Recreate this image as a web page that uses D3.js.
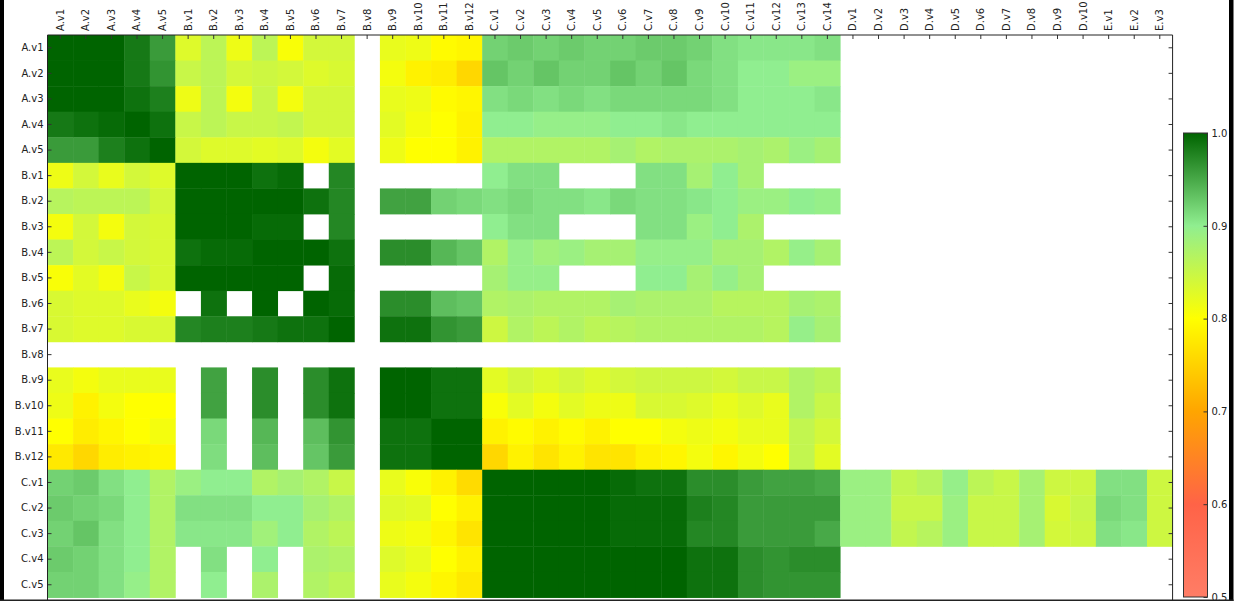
<!DOCTYPE html>
<html>
<head>
<meta charset="utf-8">
<script src="https://cdn.jsdelivr.net/npm/d3@7"></script>
<style>
  html, body { margin: 0; padding: 0; background: #fff; }
  svg { display: block; font-family: "DejaVu Sans", sans-serif; }
</style>
</head>
<body>
<svg id="chart" width="1241" height="601"></svg>
<script>
// Variable labels along each axis
const rowLabels = ["A.v1","A.v2","A.v3","A.v4","A.v5",
  "B.v1","B.v2","B.v3","B.v4","B.v5","B.v6","B.v7","B.v8","B.v9","B.v10","B.v11","B.v12",
  "C.v1","C.v2","C.v3","C.v4","C.v5"];
const colLabels = ["A.v1","A.v2","A.v3","A.v4","A.v5",
  "B.v1","B.v2","B.v3","B.v4","B.v5","B.v6","B.v7","B.v8","B.v9","B.v10","B.v11","B.v12",
  "C.v1","C.v2","C.v3","C.v4","C.v5","C.v6","C.v7","C.v8","C.v9","C.v10","C.v11","C.v12","C.v13","C.v14",
  "D.v1","D.v2","D.v3","D.v4","D.v5","D.v6","D.v7","D.v8","D.v9","D.v10",
  "E.v1","E.v2","E.v3"];
const colorbarTicks = [0.5, 0.6, 0.7, 0.8, 0.9, 1.0];

const _ = null; // no value for this pair
const noDE = [_,_,_,_,_,_,_,_,_,_, _,_,_];

// Rows A.v1 .. A.v5  (columns: A | B | C | D | E)
const valuesA = [
  [1.0,1.0,1.0,0.985,0.96,      0.83,0.86,0.815,0.86,0.805,0.84,0.84,_,0.82,0.815,0.795,0.79,
   0.92,0.925,0.92,0.925,0.92,0.92,0.925,0.925,0.92,0.91,0.905,0.905,0.905,0.91, ...noDE],
  [1.0,1.0,1.0,0.985,0.965,     0.85,0.86,0.84,0.845,0.84,0.83,0.835,_,0.81,0.785,0.78,0.755,
   0.93,0.92,0.93,0.92,0.92,0.93,0.92,0.93,0.915,0.91,0.9,0.9,0.89,0.89, ...noDE],
  [1.0,1.0,1.0,0.99,0.98,       0.815,0.86,0.81,0.85,0.81,0.84,0.84,_,0.82,0.815,0.795,0.79,
   0.91,0.915,0.91,0.915,0.91,0.915,0.915,0.915,0.915,0.91,0.9,0.9,0.9,0.905, ...noDE],
  [0.985,0.99,0.995,1.0,0.99,   0.85,0.86,0.85,0.85,0.855,0.84,0.84,_,0.825,0.81,0.8,0.785,
   0.9,0.9,0.895,0.895,0.895,0.9,0.9,0.905,0.9,0.9,0.9,0.9,0.9,0.9, ...noDE],
  [0.96,0.96,0.98,0.99,1.0,     0.84,0.83,0.83,0.825,0.83,0.81,0.825,_,0.815,0.8,0.8,0.785,
   0.87,0.87,0.87,0.87,0.87,0.88,0.87,0.875,0.875,0.875,0.88,0.875,0.89,0.88, ...noDE]
];

// Rows B.v1 .. B.v12
const valuesB = [
  [0.815,0.84,0.82,0.84,0.83,   1.0,1.0,1.0,0.99,0.995,_,0.975,_,_,_,_,_,
   0.9,0.91,0.91,_,_,_,0.91,0.91,0.88,0.9,0.88,_,_,_, ...noDE],
  [0.865,0.86,0.86,0.86,0.84,   1.0,1.0,1.0,1.0,1.0,0.99,0.975,_,0.955,0.955,0.92,0.915,
   0.91,0.915,0.91,0.91,0.905,0.915,0.91,0.91,0.905,0.9,0.89,0.89,0.9,0.895, ...noDE],
  [0.81,0.84,0.81,0.84,0.835,   1.0,1.0,1.0,0.995,0.995,_,0.975,_,_,_,_,_,
   0.9,0.91,0.91,_,_,_,0.91,0.91,0.89,0.9,0.875,_,_,_, ...noDE],
  [0.86,0.84,0.85,0.84,0.835,   0.99,0.995,0.995,1.0,1.0,1.0,0.99,_,0.97,0.97,0.94,0.93,
   0.87,0.895,0.885,0.89,0.88,0.88,0.895,0.895,0.895,0.88,0.88,0.87,0.895,0.88, ...noDE],
  [0.805,0.825,0.81,0.85,0.835, 1.0,1.0,1.0,1.0,1.0,_,0.995,_,_,_,_,_,
   0.88,0.895,0.895,_,_,_,0.9,0.9,0.88,0.895,0.88,_,_,_, ...noDE],
  [0.835,0.83,0.83,0.82,0.81,   _,0.99,_,1.0,_,1.0,0.995,_,0.97,0.97,0.935,0.93,
   0.87,0.875,0.87,0.87,0.87,0.88,0.875,0.875,0.875,0.865,0.865,0.865,0.88,0.875, ...noDE],
  [0.835,0.83,0.83,0.835,0.835, 0.975,0.98,0.98,0.985,0.99,0.99,1.0,_,0.99,0.99,0.965,0.96,
   0.845,0.87,0.86,0.87,0.86,0.865,0.87,0.87,0.87,0.87,0.87,0.865,0.895,0.88, ...noDE],
  [_,_,_,_,_, _,_,_,_,_,_,_,_,_,_,_,_, _,_,_,_,_,_,_,_,_,_,_,_,_,_, ...noDE],
  [0.82,0.81,0.82,0.82,0.82,    _,0.955,_,0.97,_,0.97,0.99,_,1.0,1.0,0.99,0.99,
   0.825,0.84,0.83,0.84,0.83,0.84,0.845,0.845,0.845,0.84,0.85,0.85,0.87,0.86, ...noDE],
  [0.815,0.785,0.81,0.8,0.8,    _,0.955,_,0.97,_,0.97,0.99,_,1.0,1.0,0.99,0.99,
   0.805,0.825,0.81,0.825,0.815,0.815,0.835,0.835,0.83,0.82,0.83,0.82,0.87,0.85, ...noDE],
  [0.8,0.78,0.79,0.8,0.81,      _,0.915,_,0.94,_,0.935,0.965,_,0.99,0.99,1.0,1.0,
   0.785,0.795,0.785,0.795,0.785,0.8,0.8,0.81,0.815,0.81,0.82,0.82,0.855,0.84, ...noDE],
  [0.775,0.755,0.78,0.785,0.79, _,0.912,_,0.935,_,0.93,0.96,_,0.99,0.99,1.0,1.0,
   0.755,0.785,0.77,0.785,0.77,0.77,0.785,0.79,0.81,0.79,0.81,0.8,0.855,0.825, ...noDE]
];

// Rows C.v1 .. C.v5  (C.v1 .. C.v3 also pair with the D and E variables)
const valuesC = [
  [0.92,0.925,0.91,0.9,0.87,    0.89,0.9,0.9,0.87,0.88,0.87,0.85,_,0.82,0.805,0.785,0.76,
   1.0,1.0,1.0,1.0,1.0,0.995,0.99,0.99,0.97,0.97,0.96,0.955,0.955,0.95,
   0.89,0.89,0.855,0.865,0.895,0.86,0.85,0.88,0.845,0.845, 0.91,0.91,0.845],
  [0.925,0.92,0.915,0.9,0.87,   0.91,0.91,0.91,0.9,0.9,0.88,0.87,_,0.83,0.825,0.8,0.785,
   1.0,1.0,1.0,1.0,1.0,0.995,0.995,0.995,0.98,0.975,0.96,0.96,0.96,0.96,
   0.89,0.89,0.85,0.85,0.89,0.85,0.85,0.88,0.835,0.85, 0.915,0.91,0.845],
  [0.92,0.93,0.91,0.9,0.87,     0.905,0.905,0.905,0.885,0.9,0.87,0.86,_,0.815,0.81,0.79,0.77,
   1.0,1.0,1.0,1.0,1.0,0.995,0.995,0.995,0.975,0.975,0.96,0.96,0.96,0.95,
   0.89,0.89,0.855,0.865,0.89,0.85,0.85,0.88,0.84,0.845, 0.91,0.905,0.845],
  [0.925,0.92,0.91,0.9,0.87,    _,0.91,_,0.9,_,0.875,0.87,_,0.83,0.82,0.8,0.785,
   1.0,1.0,1.0,1.0,1.0,1.0,1.0,1.0,0.99,0.99,0.97,0.965,0.97,0.97, ...noDE],
  [0.92,0.92,0.91,0.895,0.87,   _,0.9,_,0.875,_,0.87,0.86,_,0.82,0.81,0.79,0.775,
   1.0,1.0,1.0,1.0,1.0,1.0,1.0,1.0,0.99,0.99,0.97,0.965,0.965,0.965, ...noDE]
];

const values = [...valuesA, ...valuesB, ...valuesC];

// Layout
const plotLeft = 47.5, plotTop = 35, cell = 25.57;
const svg = d3.select("#chart");

const x = d3.scaleBand().domain(colLabels).range([plotLeft, plotLeft + cell * colLabels.length]);
const y = d3.scaleBand().domain(rowLabels).range([plotTop, plotTop + cell * rowLabels.length]);
const plotRight = x.range()[1];

const color = d3.scaleLinear()
  .domain([0.5, 0.6, 0.7, 0.8, 0.9, 1.0])
  .range(["#ff7d66", "#ff6347", "#ffa500", "#ffff00", "#90ee90", "#006400"])
  .clamp(true);

// Cells
const cells = [];
values.forEach((row, i) => row.forEach((v, j) => {
  if (v !== null) cells.push({ r: rowLabels[i], c: colLabels[j], v });
}));

svg.append("g")
  .selectAll("rect")
  .data(cells)
  .join("rect")
  .attr("x", d => x(d.c))
  .attr("y", d => y(d.r))
  .attr("width", x.bandwidth() + 0.4)
  .attr("height", y.bandwidth() + 0.4)
  .attr("fill", d => color(d.v));

// Axes with inward ticks
const tickStyle = g => {
  g.select(".domain").remove();
  g.selectAll(".tick line").attr("stroke", "#333");
  g.selectAll(".tick text").attr("fill", "#222").style("font-size", "10px")
    .style("font-family", "'DejaVu Sans', sans-serif");
};

svg.append("g")
  .attr("transform", `translate(${plotLeft},0)`)
  .call(d3.axisLeft(y).tickSizeInner(-4).tickSizeOuter(0).tickPadding(4))
  .call(tickStyle);

svg.append("g")
  .attr("transform", `translate(${plotRight},0)`)
  .call(d3.axisRight(y).tickSizeInner(-4).tickSizeOuter(0).tickFormat(""))
  .call(tickStyle);

const topAxis = svg.append("g")
  .attr("transform", `translate(0,${plotTop})`)
  .call(d3.axisTop(x).tickSizeInner(-4).tickSizeOuter(0))
  .call(tickStyle);
topAxis.selectAll(".tick text")
  .attr("transform", "rotate(-90)")
  .attr("x", 4)
  .attr("y", 0)
  .attr("dy", "0.35em")
  .attr("text-anchor", "start");

// Plot frame (bottom edge runs past the visible area)
const frame = svg.append("g").attr("stroke", "#222").attr("stroke-width", 1).attr("fill", "none");
frame.append("line").attr("x1", plotLeft).attr("x2", plotRight).attr("y1", plotTop).attr("y2", plotTop);
frame.append("line").attr("x1", plotLeft).attr("x2", plotLeft).attr("y1", plotTop).attr("y2", 601);
frame.append("line").attr("x1", plotRight).attr("x2", plotRight).attr("y1", plotTop).attr("y2", 601);

// Colorbar
const cbX = 1183.5, cbW = 24;
const cb = d3.scaleLinear().domain([0.5, 1.0]).range([597, 133]);
const grad = svg.append("defs").append("linearGradient")
  .attr("id", "cbGrad").attr("x1", 0).attr("y1", 1).attr("x2", 0).attr("y2", 0);
color.domain().forEach(v => {
  grad.append("stop")
    .attr("offset", (v - 0.5) / 0.5)
    .attr("stop-color", color(v));
});
svg.append("rect")
  .attr("x", cbX).attr("y", cb(1.0))
  .attr("width", cbW).attr("height", cb(0.5) - cb(1.0))
  .attr("fill", "url(#cbGrad)")
  .attr("stroke", "#333").attr("stroke-width", 1);

svg.append("g")
  .attr("transform", `translate(${cbX + cbW},0)`)
  .call(d3.axisRight(cb).tickValues(colorbarTicks).tickFormat(d3.format(".1f"))
    .tickSizeInner(-4).tickSizeOuter(0).tickPadding(4))
  .call(tickStyle);

// Outer border of the figure
svg.append("rect").attr("x", 0).attr("y", 0).attr("width", 4).attr("height", 601).attr("fill", "#000");
svg.append("rect").attr("x", 1229).attr("y", 0).attr("width", 4.5).attr("height", 601).attr("fill", "#000");
svg.append("rect").attr("x", 0).attr("y", 599.5).attr("width", 1233.5).attr("height", 1.5).attr("fill", "#222");
</script>
</body>
</html>
